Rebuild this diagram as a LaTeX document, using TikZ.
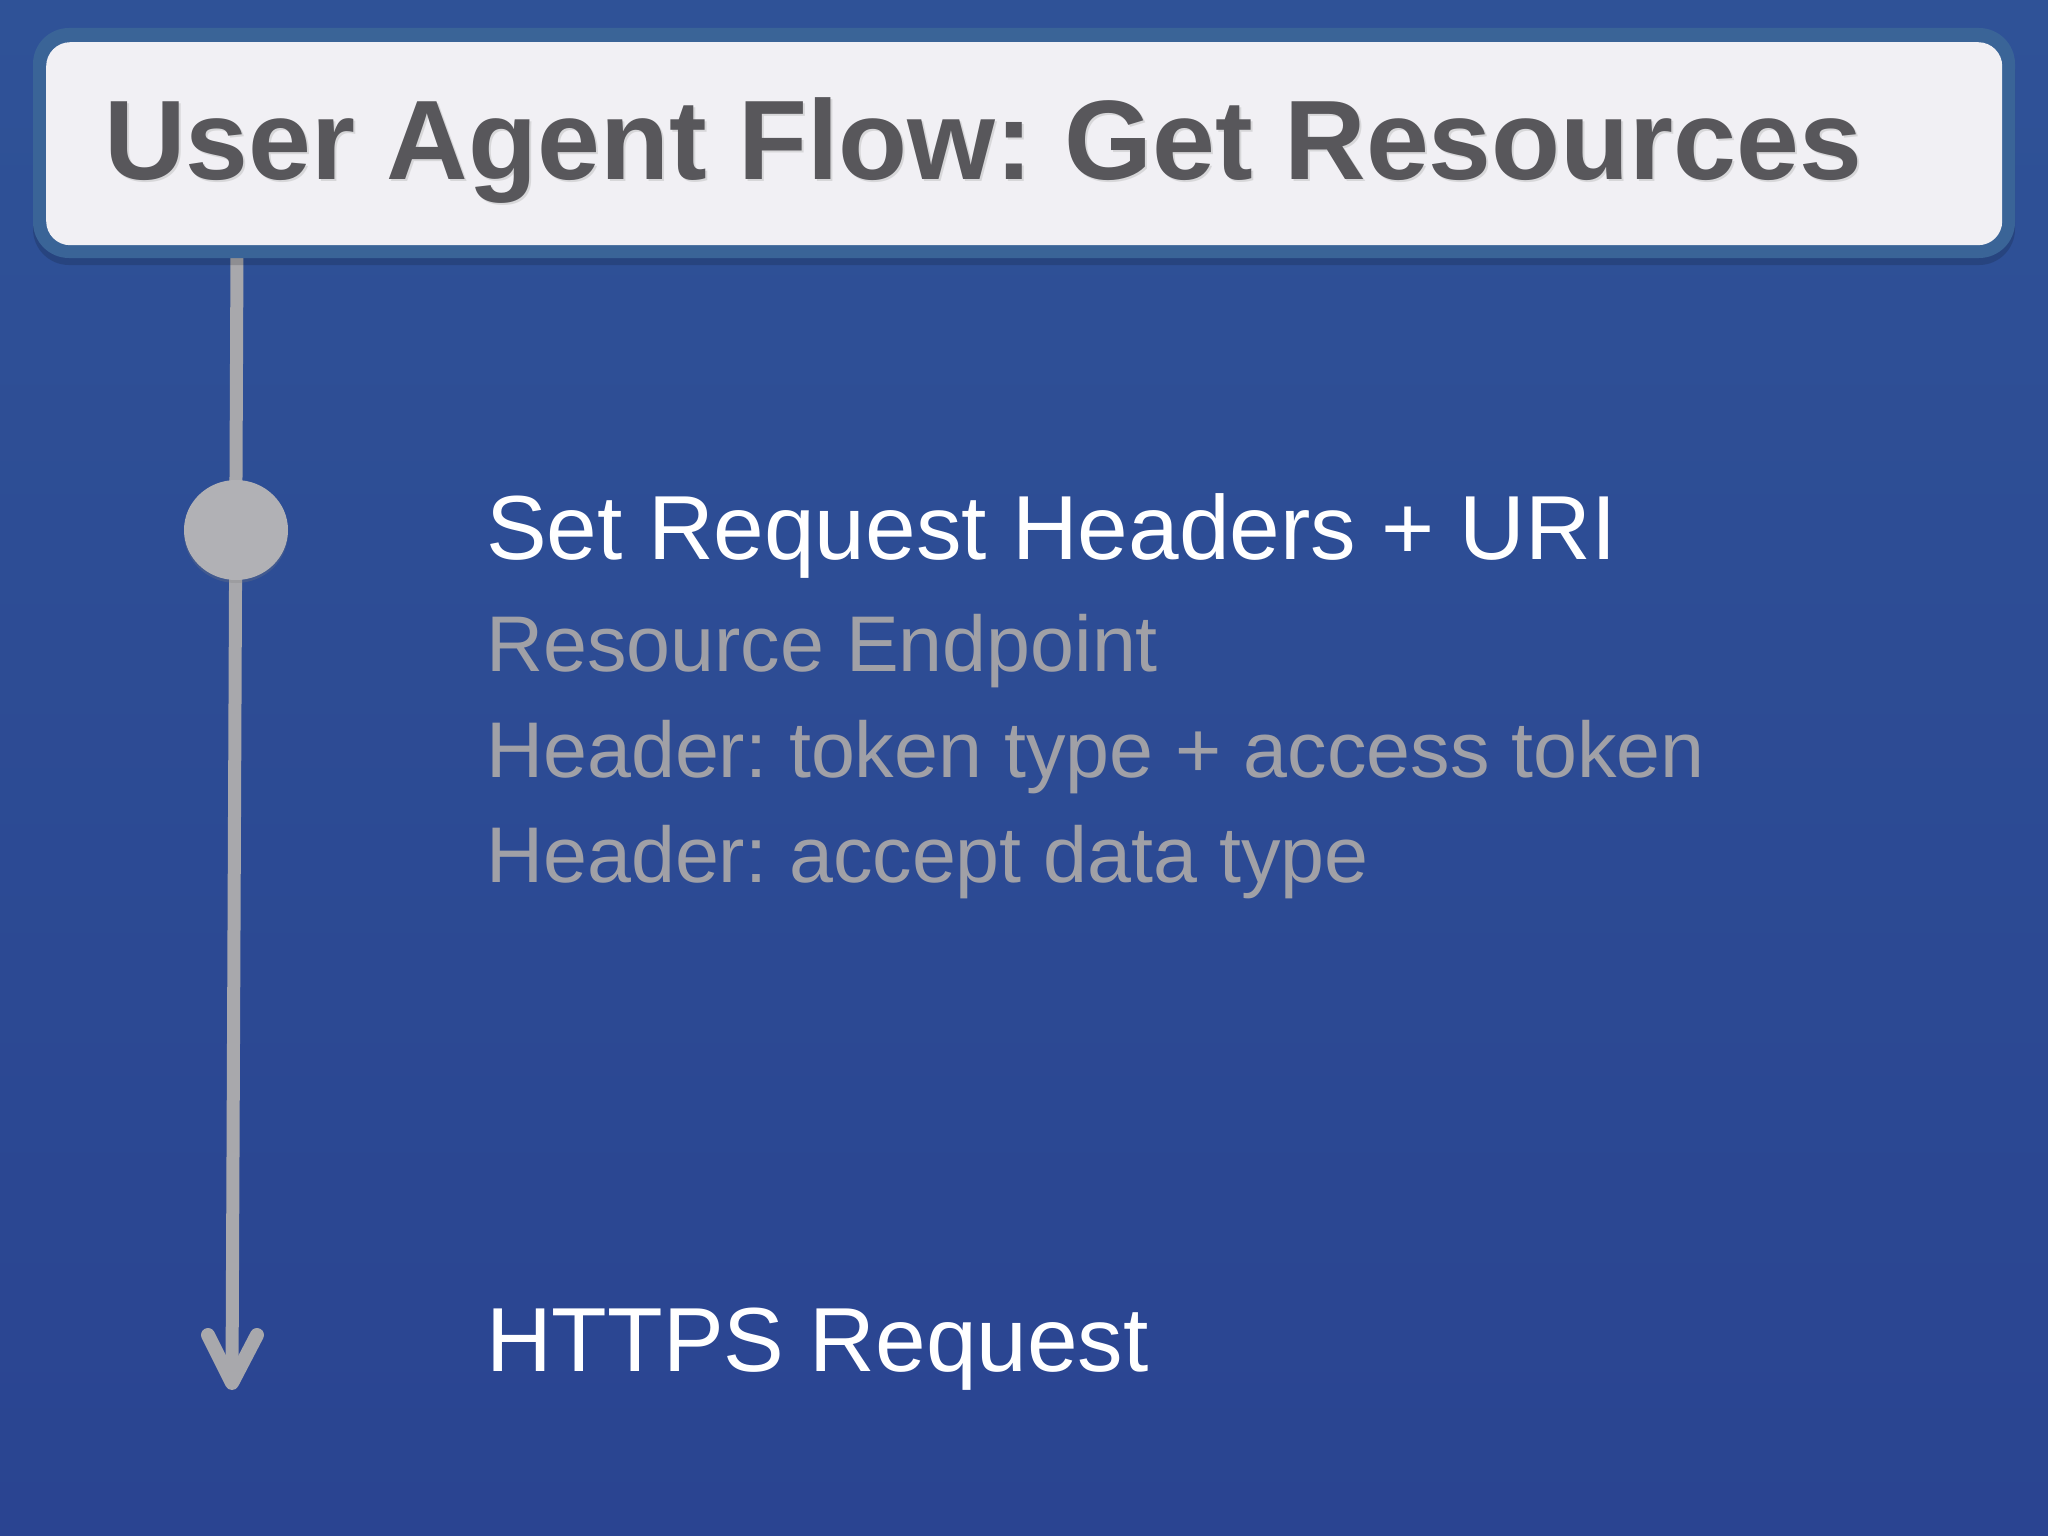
\documentclass[tikz,border=0pt]{standalone}
\usepackage{fontspec}
\setmainfont{Liberation Sans}
\usetikzlibrary{shadows,shapes.geometric}
\frenchspacing
\definecolor{bgtop}{HTML}{2F5297}
\definecolor{bgbot}{HTML}{2A4491}
\definecolor{boxborder}{HTML}{3A6497}
\definecolor{boxfill}{HTML}{F1F0F4}
\definecolor{titlecol}{HTML}{58575B}
\definecolor{subcol}{HTML}{A0A0A6}
\definecolor{linecol}{HTML}{A8A8AC}
\definecolor{dotcol}{HTML}{B1B1B5}
\tikzset{
  titletext/.style={anchor=base west, inner sep=0pt, text=titlecol,
    font=\fontsize{113}{130}\selectfont\bfseries},
  headtext/.style={anchor=base west, inner sep=0pt, text=white,
    font=\fontsize{91}{105}\selectfont},
  subtext/.style={anchor=base west, inner sep=0pt, text=subcol,
    font=\fontsize{79}{92}\selectfont},
  flowline/.style={draw=linecol, line width=13pt},
  arrowarm/.style={draw=linecol, line width=14pt, line cap=round, line join=round},
  dotstyle/.style={ellipse, fill=dotcol, minimum width=104pt, minimum height=100pt, inner sep=0pt,
    drop shadow={opacity=0.25, shadow xshift=0pt, shadow yshift=-3pt}},
}
\begin{document}
\begin{tikzpicture}[x=1pt,y=-1pt]
\useasboundingbox (0,0) rectangle (2048,1536);
\fill[top color=bgtop, bottom color=bgbot] (0,0) rectangle (2048,1536);
% connector line
\coordinate (top) at (237,250);
\coordinate (bot) at (232,1383);
\draw[flowline] (top) -- (bot);
\draw[arrowarm] (208,1335) -- (bot) -- (257,1335);
% title box
\fill[black, opacity=0.15, rounded corners=36pt] (33,34) rectangle (2015,265);
\fill[boxborder, rounded corners=36pt] (33,28) rectangle (2015,258);
\node[fill=boxfill, rounded corners=24pt, minimum width=1956pt, minimum height=203pt, inner sep=0pt, anchor=north west] (title) at (46,42) {};
\node[titletext, text=black!25, opacity=0.5] at (106,182) {User Agent Flow: Get Resources};
\node[titletext] (titletxt) at (104,179) {User Agent Flow: Get Resources};
% dot
\node[dotstyle] (dot) at (236,530) {};
% texts
\node[headtext] (step1) at (486,559) {Set Request Headers + URI};
\node[subtext] (sub1) at (486,671) {Resource Endpoint};
\node[subtext] (sub2) at (486,777) {Header: token type + access token};
\node[subtext] (sub3) at (486,882) {Header: accept data type};
\node[headtext] (step2) at (486,1371) {HTTPS Request};
\end{tikzpicture}
\end{document}
